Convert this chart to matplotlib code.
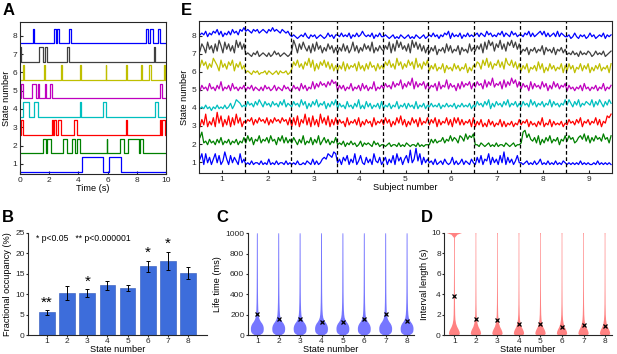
import numpy as np
import matplotlib
matplotlib.use('Agg')
import matplotlib.pyplot as plt

plt.rcParams['font.family'] = ['Liberation Sans', 'DejaVu Sans']
plt.rcParams['axes.edgecolor'] = '#262626'
plt.rcParams['axes.linewidth'] = 0.8

# matlab-ish state colours, state 1..8
state_colors = ['#0000ff', '#008000', '#ff0000', '#00bfbf',
                '#bf00bf', '#bfbf00', '#404040', '#0000ff']

# ---- A: example state time course (on intervals, seconds) ----
state_intervals = {
    1: [(4.22, 5.66), (6.07, 6.9)],
    2: [(1.55, 1.78), (1.85, 2.1), (2.92, 3.2), (3.58, 3.77), (3.93, 4.1),
        (5.93, 5.98), (6.85, 7.12), (7.37, 8.17), (8.24, 8.45)],
    3: [(0.08, 0.2), (2.18, 2.28), (2.33, 2.45), (2.6, 2.8), (3.7, 3.92),
        (7.28, 7.34), (9.56, 9.64), (9.75, 9.9)],
    4: [(0.2, 0.6), (0.98, 1.2), (4.12, 4.2), (5.68, 5.89), (9.28, 9.46)],
    5: [(0.1, 0.22), (0.85, 1.07), (1.23, 1.3), (1.72, 1.81), (2.07, 2.22),
        (9.6, 9.74)],
    6: [(0.2, 0.28), (1.63, 1.72), (2.8, 2.87), (4.1, 4.17), (5.87, 5.92),
        (7.29, 7.36), (8.27, 8.35), (8.86, 8.98), (9.83, 9.92)],
    7: [(0.0, 0.1), (1.33, 1.56), (1.73, 1.83), (3.21, 3.34), (9.15, 9.26)],
    8: [(0.88, 0.96), (2.32, 2.45), (2.5, 2.7), (3.33, 3.5), (8.62, 8.8),
        (8.9, 9.12), (9.47, 9.58)],
}

# ---- E: occupancy traces per subject, digit = level 0..9 ----
subject_traces = {
    1: ["360614036150273051420613", "010201102010301020110201", "010200102103020134365476",
        "130425031602510413062140", "240315062403518139260413", "120301203101402013021031",
        "041503260413051704130251", "101201020130102010201021", "010101020101001020101010"],
    2: ["582314231425132413241325", "263514362435263415362524", "253142613251426135241325",
        "121302131201302121031201", "101201102010210110201011", "142423352436354265374657",
        "110210120102011021012011", "289574352614253624351436", "364523564736253645374526"],
    3: ["152814261937152716283614", "354625364536253645364526", "162715382617251836271526",
        "253416243526142534162435", "263514263725142635162436", "253615243625163625243516",
        "142513152413251413241325", "243514231426132514232413", "253425361435243625143768"],
    4: ["121312021312131241365423", "253425364253425342536243", "253426351425362435142536",
        "142315231426131524132415", "132413251324142315132413", "242324132423241324232413",
        "253425361425342536243524", "253426352435243625342436", "364253624354362536425364"],
    5: ["142315231426132415231324", "132413213142312413214231", "142315241326253645364756",
        "142413251324152413261324", "253426354725364826354625", "243516243725341526354625",
        "364527364835462736485736", "253416253426351426352435", "142313241523132413251324"],
    6: ["485736497528463758264735", "121021201120210120211201", "375846375948263758473625",
        "253726354627352637452635", "375846395736485739463758", "253624361534263524361425",
        "476385947365847396584736", "253614352736142635243615", "263514362536142536243516"],
    7: ["375284627396284736295847", "121021301210201312012101", "396274853627384625374625",
        "253736248362537463825364", "364827395846372958473625", "253614352736243615342735",
        "364728496837594738695847", "243514352436153425143524", "121312031213201312130123"],
    8: ["232413243524132425342546", "454354534543546454354342", "121012131021201210131202",
        "213121302131242121302131", "121012010210120102101201", "213120213240312130213121",
        "231321423121324132142312", "213241312342413123141321", "120131021201312012130212"],
}

# ---- B: fractional occupancy ----
states = [1, 2, 3, 4, 5, 6, 7, 8]
occupancy = [5.5, 10.2, 10.2, 12.1, 11.5, 16.8, 18.1, 15.1]
occupancy_err = [0.5, 1.7, 1.0, 1.2, 0.8, 1.3, 2.3, 1.5]
signif = ['**', '', '*', '', '', '*', '*', '']

# ---- C: life time distributions (ms) ----
life_mean = [205, 160, 155, 130, 130, 160, 210, 140]
life_coords = [0, 15, 30, 50, 70, 90, 110, 130, 150, 170, 200, 250, 320,
               420, 550, 700, 850, 980, 1000]
life_density = [0.45, 0.8, 0.95, 1.0, 1.0, 0.93, 0.78, 0.55, 0.38, 0.27,
                0.2, 0.15, 0.12, 0.1, 0.09, 0.08, 0.075, 0.07, 0.06]

# ---- D: interval length distributions (s) ----
interval_mean = [3.85, 1.55, 1.5, 1.05, 1.1, 0.8, 1.0, 0.85]
interval_coords = [0, 0.1, 0.3, 0.5, 0.8, 1.1, 1.5, 2.0, 3.0, 4.5, 6.0,
                   8.0, 9.5, 9.8, 10.0]
interval_density = [0.8, 1.0, 0.95, 0.8, 0.5, 0.32, 0.2, 0.14, 0.1, 0.08,
                    0.07, 0.065, 0.06, 0.065, 0.08]
interval1_density = [0.55, 0.65, 0.62, 0.52, 0.33, 0.2, 0.12, 0.09, 0.07,
                     0.06, 0.05, 0.045, 0.05, 0.35, 1.0]

fig = plt.figure(figsize=(6.17, 3.54), dpi=100)
W, H = 617.0, 354.0


def add_axes(l, t, r, b):
    return fig.add_axes([l / W, 1 - b / H, (r - l) / W, (b - t) / H])


tick_fs = 6
lab_fs = 6.6

# ===== A =====
axA = add_axes(20, 22, 166, 174)
for k in states:
    ivs = state_intervals[k]
    t = [0.0]
    lev = [0]
    for s, e in ivs:
        t += [s, e]
        lev += [1, 0]
    t.append(10.0)
    lev.append(0)
    y = k - 0.42 + 0.8 * np.array(lev)
    axA.step(t, y, where='post', color=state_colors[k - 1], lw=0.9)
axA.set_xlim(0, 10)
axA.set_ylim(0.45, 8.75)
axA.set_xticks([0, 2, 4, 6, 8, 10])
axA.set_yticks(states)
axA.tick_params(direction='in', length=2, labelsize=tick_fs, pad=2,
                colors='#262626')
axA.set_xlabel('Time (s)', fontsize=lab_fs, labelpad=0)
axA.set_ylabel('State number', fontsize=lab_fs, labelpad=1)

# ===== E =====
axE = add_axes(199, 21, 612, 173)
for k in states:
    xs, ys = [], []
    for j, seg in enumerate(subject_traces[k]):
        m = len(seg)
        xs.append(j + 0.5 + (np.arange(m) + 0.5) / m)
        ys.append(np.array([int(c) for c in seg]))
    xs = np.concatenate(xs)
    ys = np.concatenate(ys)
    axE.plot(xs, k - 0.14 + 0.1 * ys, color=state_colors[k - 1], lw=0.9)
for b in np.arange(1.5, 9.0, 1.0):
    axE.axvline(b, color='k', ls='--', lw=0.9, dashes=(3, 2))
axE.set_xlim(0.5, 9.5)
axE.set_ylim(0.39, 8.83)
axE.set_xticks(range(1, 10))
axE.set_yticks(states)
axE.tick_params(direction='in', length=2, labelsize=tick_fs, pad=2,
                colors='#262626')
axE.set_xlabel('Subject number', fontsize=lab_fs, labelpad=0)
axE.set_ylabel('State number', fontsize=lab_fs, labelpad=2)

# ===== B =====
axB = add_axes(28, 232.7, 207, 335)
axB.bar(states, occupancy, width=0.78, color='#3d6ddb', edgecolor='#2c55b8',
        lw=0.4, yerr=occupancy_err, capsize=1.5,
        error_kw=dict(ecolor='k', elinewidth=0.7, capthick=0.7))
for x, m, e, s in zip(states, occupancy, occupancy_err, signif):
    if s:
        axB.text(x, m + e + 0.2, s, ha='center', va='bottom', fontsize=11)
axB.text(0.45, 23.7, '* p<0.05   ** p<0.000001', fontsize=6.2, va='center')
axB.set_xlim(0.05, 8.95)
axB.set_ylim(0, 25)
axB.set_xticks(states)
axB.set_yticks([0, 5, 10, 15, 20, 25])
axB.set_ylabel('Fractional occupancy (%)', fontsize=lab_fs, labelpad=2)

# ===== C =====
axC = add_axes(247.7, 233.3, 413.5, 335)
vp = [dict(coords=life_coords, vals=life_density, mean=m, median=m,
           min=life_coords[0], max=life_coords[-1], quantiles=[])
      for m in life_mean]
parts = axC.violin(vp, positions=states, widths=0.6, showextrema=False)
for body in parts['bodies']:
    body.set_facecolor('#3c3cff')
    body.set_edgecolor('none')
    body.set_alpha(0.7)
axC.plot(states, life_mean, 'x', color='k', ms=3.5, mew=0.9)
axC.set_xlim(0.55, 8.3)
axC.set_ylim(0, 1000)
axC.set_xticks(states)
axC.set_yticks(range(0, 1001, 200))
axC.set_ylabel('Life time (ms)', fontsize=lab_fs, labelpad=2)

# ===== D =====
axD = add_axes(444.3, 232.7, 611.5, 335)
vp = []
for i, m in enumerate(interval_mean):
    dens = interval1_density if i == 0 else interval_density
    vp.append(dict(coords=interval_coords, vals=dens, mean=m, median=m,
                   min=0, max=10, quantiles=[]))
wid = [0.78] + [0.48] * 7
parts = axD.violin(vp, positions=states, widths=wid, showextrema=False)
for body in parts['bodies']:
    body.set_facecolor('#ff4040')
    body.set_edgecolor('none')
    body.set_alpha(0.65)
axD.plot(states, interval_mean, 'x', color='k', ms=3.5, mew=0.9)
axD.set_xlim(0.53, 8.3)
axD.set_ylim(0, 10)
axD.set_xticks(states)
axD.set_yticks(range(0, 11, 2))
axD.set_ylabel('Interval length (s)', fontsize=lab_fs, labelpad=2)

for ax in (axB, axC, axD):
    for sp in ('top', 'right'):
        ax.spines[sp].set_visible(False)
    ax.tick_params(direction='out', length=1.5, labelsize=tick_fs, pad=1,
                   colors='#262626')
    ax.set_xlabel('State number', fontsize=lab_fs, labelpad=-0.5)

# panel letters
for lbl, x, y in [('A', 3, 3), ('E', 181, 3), ('B', 2, 210),
                  ('C', 216, 210), ('D', 421, 210)]:
    fig.text(x / W, 1 - y / H, lbl, fontsize=12, fontweight='bold',
             va='top', ha='left')

fig.savefig('out.png', dpi=100)
